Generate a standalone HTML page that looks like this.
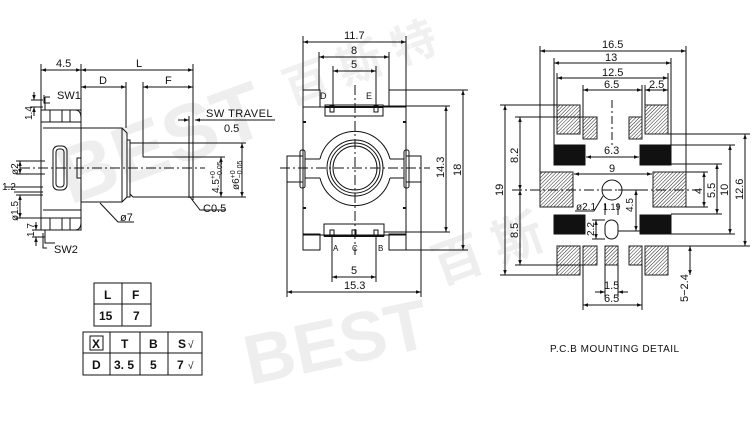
<!DOCTYPE html>
<html><head><meta charset="utf-8"><style>
html,body{margin:0;padding:0;background:#fff}
svg{display:block}
text{font-family:"Liberation Sans","Noto Sans CJK SC",sans-serif;fill:#111}
</style></head><body>
<svg width="755" height="424" viewBox="0 0 755 424" xmlns="http://www.w3.org/2000/svg">
<defs>
<marker id="a" viewBox="0 0 10 10" refX="10" refY="5" markerWidth="6" markerHeight="5" orient="auto-start-reverse"><path d="M0,1.5L10,5L0,8.5z" fill="#111"/></marker>
<pattern id="h" width="2.5" height="2.5" patternUnits="userSpaceOnUse" patternTransform="rotate(45)"><rect width="2.5" height="2.5" fill="#fff"/><line x1="0" y1="0" x2="0" y2="2.5" stroke="#222" stroke-width="1"/></pattern>
</defs>
<!-- watermarks -->
<g font-weight="bold" font-family="Liberation Serif,serif">
<text x="70" y="205" font-size="80" transform="rotate(-20 70 205)" style="fill:#eeeeee">BEST</text>
<text x="250" y="385" font-size="70" transform="rotate(-12 250 385)" style="fill:#eeeeee">BEST</text>
<text x="440" y="285" font-size="50" transform="rotate(-20 440 285)" style="fill:#eeeeee">百 斯</text>
<text x="290" y="105" font-size="45" transform="rotate(-20 290 105)" style="fill:#f0f0f0">百 斯 特</text>
</g>
<g stroke="#111" stroke-width="1" fill="none">
<!-- LEFT VIEW -->
<line x1="41" y1="64" x2="41" y2="112"/><line x1="81" y1="64" x2="81" y2="120"/><line x1="193" y1="64" x2="193" y2="200"/>
<line x1="126" y1="82" x2="126" y2="128"/><line x1="143" y1="82" x2="143" y2="157"/>
<line x1="41" y1="70" x2="81" y2="70" marker-start="url(#a)" marker-end="url(#a)"/>
<line x1="81" y1="70" x2="193" y2="70" marker-start="url(#a)" marker-end="url(#a)"/>
<line x1="81" y1="87" x2="126" y2="87" marker-start="url(#a)" marker-end="url(#a)"/>
<line x1="143" y1="87" x2="193" y2="87" marker-start="url(#a)" marker-end="url(#a)"/>
<line x1="178" y1="120" x2="189" y2="120" marker-end="url(#a)"/>
<line x1="205" y1="120" x2="195" y2="120" marker-end="url(#a)"/>
<line x1="195" y1="120" x2="275" y2="120"/>
<line x1="189" y1="116" x2="189" y2="198"/>
<path d="M45,97 H50 M45,97 V110 M41,110 H75 Q81,110 81,118 V222 Q81,230 75,230 H41 Z"/>
<rect x="41" y="110" width="40" height="12"/><rect x="41" y="218" width="40" height="12"/>
<line x1="50" y1="110" x2="50" y2="122"/><line x1="62" y1="110" x2="62" y2="122"/><line x1="70" y1="110" x2="70" y2="122"/>
<line x1="50" y1="218" x2="50" y2="230"/><line x1="62" y1="218" x2="62" y2="230"/><line x1="70" y1="218" x2="70" y2="230"/>
<line x1="43" y1="128" x2="81" y2="128"/><line x1="43" y1="210" x2="81" y2="210"/>
<rect x="53" y="146" width="14" height="44" rx="5"/><rect x="56" y="149" width="8" height="38" rx="3"/>
<rect x="77" y="158" width="4" height="20"/>
<path d="M45,230 V243 H55 M43,233 V248 H47"/>
<path d="M44,95 V103 H50"/>
<path d="M81,128 H122 L127,133 V197 L122,202 H81"/>
<line x1="122" y1="128" x2="122" y2="202"/>
<path d="M127,140 H130 V197 H127"/>
<path d="M130,143 H193 V197 H133 L130,194 Z"/>
<line x1="143" y1="157" x2="193" y2="157"/>
<line x1="20" y1="168" x2="205" y2="168" stroke-dasharray="10,3,2,3"/>
<line x1="193" y1="143" x2="246" y2="143"/><line x1="193" y1="197" x2="246" y2="197"/><line x1="193" y1="157" x2="225" y2="157"/>
<line x1="221" y1="157" x2="221" y2="197" marker-start="url(#a)" marker-end="url(#a)"/>
<line x1="242" y1="143" x2="242" y2="197" marker-start="url(#a)" marker-end="url(#a)"/>
<path d="M100,203 L118,222 H134"/>
<path d="M190,197 L200,210 H226"/>
<line x1="31" y1="100" x2="43" y2="100"/><line x1="31" y1="107" x2="43" y2="107"/>
<line x1="34" y1="92" x2="34" y2="100" marker-end="url(#a)"/><line x1="34" y1="116" x2="34" y2="107" marker-end="url(#a)"/>
<line x1="16" y1="161" x2="45" y2="161"/><line x1="16" y1="174" x2="45" y2="174"/>
<line x1="20" y1="161" x2="20" y2="174" marker-start="url(#a)" marker-end="url(#a)"/>
<line x1="5" y1="187" x2="43" y2="187"/><line x1="14" y1="192" x2="43" y2="192"/>
<line x1="16" y1="195" x2="43" y2="195"/><line x1="16" y1="218" x2="43" y2="218"/>
<line x1="20" y1="195" x2="20" y2="218" marker-start="url(#a)" marker-end="url(#a)"/>
<line x1="32" y1="230" x2="45" y2="230"/><line x1="32" y1="237" x2="45" y2="237"/>
<line x1="36" y1="222" x2="36" y2="230" marker-end="url(#a)"/><line x1="36" y1="246" x2="36" y2="237" marker-end="url(#a)"/>

<!-- MIDDLE VIEW -->
<line x1="303" y1="36" x2="303" y2="90"/><line x1="406" y1="36" x2="406" y2="90"/>
<line x1="319" y1="52" x2="319" y2="90"/><line x1="389" y1="52" x2="389" y2="90"/>
<line x1="333" y1="66" x2="333" y2="107"/><line x1="376" y1="66" x2="376" y2="107"/>
<line x1="303" y1="42" x2="406" y2="42" marker-start="url(#a)" marker-end="url(#a)"/>
<line x1="319" y1="57" x2="389" y2="57" marker-start="url(#a)" marker-end="url(#a)"/>
<line x1="333" y1="71" x2="376" y2="71" marker-start="url(#a)" marker-end="url(#a)"/>
<rect x="303" y="90" width="17" height="17"/><rect x="389" y="90" width="17" height="17"/>
<rect x="303" y="107" width="103" height="128"/>
<rect x="325" y="105" width="58" height="11"/><line x1="325" y1="107" x2="383" y2="107" stroke-width="2"/>
<rect x="330" y="106" width="4" height="6"/><rect x="374" y="106" width="4" height="6"/>
<rect x="303" y="234" width="17" height="16"/><rect x="389" y="234" width="17" height="16"/>
<rect x="324" y="224" width="60" height="12"/><line x1="324" y1="236" x2="384" y2="236" stroke-width="2"/>
<rect x="330" y="230" width="4" height="6"/><rect x="352" y="230" width="4" height="6"/><rect x="374" y="230" width="4" height="6"/>
<rect x="287" y="156" width="16" height="26"/><rect x="406" y="156" width="15" height="26"/>
<rect x="300" y="150" width="5" height="38" rx="2"/><rect x="404" y="150" width="5" height="38" rx="2"/>
<line x1="305" y1="159" x2="320" y2="159"/><line x1="305" y1="178" x2="320" y2="178"/>
<line x1="390" y1="159" x2="404" y2="159"/><line x1="390" y1="178" x2="404" y2="178"/>
<path d="M320,159 A36,36 0 0 1 390,159 M320,178 A36,36 0 0 0 390,178"/>
<circle cx="355" cy="168" r="28"/><circle cx="355" cy="168" r="25"/><circle cx="355" cy="168" r="22"/>
<path d="M303,122 h3 M303,208 h3 M406,122 h-3 M406,208 h-3" stroke-width="2"/>
<line x1="355" y1="85" x2="355" y2="255" stroke-dasharray="10,3,2,3"/>
<line x1="280" y1="168" x2="430" y2="168" stroke-dasharray="10,3,2,3"/>
<line x1="406" y1="90" x2="468" y2="90"/><line x1="406" y1="250" x2="468" y2="250"/>
<line x1="383" y1="106" x2="450" y2="106"/><line x1="384" y1="232" x2="450" y2="232"/>
<line x1="446" y1="106" x2="446" y2="232" marker-start="url(#a)" marker-end="url(#a)"/>
<line x1="463" y1="90" x2="463" y2="250" marker-start="url(#a)" marker-end="url(#a)"/>
<line x1="332" y1="236" x2="332" y2="282"/><line x1="376" y1="236" x2="376" y2="282"/>
<line x1="287" y1="182" x2="287" y2="297"/><line x1="421" y1="182" x2="421" y2="297"/>
<line x1="332" y1="277" x2="376" y2="277" marker-start="url(#a)" marker-end="url(#a)"/>
<line x1="287" y1="292" x2="421" y2="292" marker-start="url(#a)" marker-end="url(#a)"/>

<!-- RIGHT VIEW -->
<line x1="540" y1="46" x2="540" y2="172"/><line x1="686" y1="46" x2="686" y2="172"/>
<line x1="554" y1="58" x2="554" y2="145"/><line x1="671" y1="58" x2="671" y2="145"/>
<line x1="557" y1="73" x2="557" y2="105"/><line x1="668" y1="73" x2="668" y2="105"/>
<line x1="583" y1="85" x2="583" y2="117"/><line x1="642" y1="85" x2="642" y2="117"/><line x1="645" y1="85" x2="645" y2="105"/>
<line x1="540" y1="51" x2="686" y2="51" marker-start="url(#a)" marker-end="url(#a)"/>
<line x1="554" y1="63" x2="671" y2="63" marker-start="url(#a)" marker-end="url(#a)"/>
<line x1="557" y1="78" x2="668" y2="78" marker-start="url(#a)" marker-end="url(#a)"/>
<line x1="583" y1="90" x2="642" y2="90" marker-start="url(#a)" marker-end="url(#a)"/>
<line x1="645" y1="90" x2="668" y2="90" marker-start="url(#a)" marker-end="url(#a)"/>
<g fill="url(#h)" stroke="#222">
<rect x="557" y="105" width="23" height="29"/><rect x="583" y="117" width="14" height="22"/>
<rect x="629" y="117" width="13" height="22"/><rect x="645" y="105" width="23" height="29"/>
<rect x="540" y="172" width="33" height="35"/><rect x="653" y="172" width="33" height="35"/>
<rect x="557" y="246" width="23" height="29"/><rect x="583" y="246" width="14" height="19"/>
<rect x="605" y="246" width="13" height="19"/><rect x="629" y="246" width="13" height="19"/>
<rect x="645" y="246" width="23" height="29"/>
</g>
<g fill="#111">
<rect x="554" y="145" width="31" height="20"/><rect x="640" y="145" width="31" height="20"/>
<rect x="554" y="215" width="31" height="19"/><rect x="640" y="215" width="31" height="19"/>
</g>
<line x1="586" y1="157" x2="639" y2="157" marker-start="url(#a)" marker-end="url(#a)"/>
<line x1="574" y1="174" x2="652" y2="174" marker-start="url(#a)" marker-end="url(#a)"/>
<circle cx="612" cy="190" r="10"/>
<rect x="605" y="220" width="13" height="19" rx="6.5"/>
<line x1="612" y1="100" x2="612" y2="145" stroke-dasharray="8,3,2,3"/>
<line x1="512" y1="190" x2="700" y2="190" stroke-dasharray="10,3,2,3"/>
<line x1="500" y1="105" x2="557" y2="105"/><line x1="500" y1="275" x2="557" y2="275"/>
<line x1="515" y1="117" x2="583" y2="117"/><line x1="515" y1="265" x2="583" y2="265"/>
<line x1="505" y1="105" x2="505" y2="275" marker-start="url(#a)" marker-end="url(#a)"/>
<line x1="520" y1="117" x2="520" y2="190" marker-start="url(#a)" marker-end="url(#a)"/>
<line x1="520" y1="190" x2="520" y2="265" marker-start="url(#a)" marker-end="url(#a)"/>
<line x1="686" y1="172" x2="708" y2="172"/><line x1="686" y1="207" x2="708" y2="207"/>
<line x1="671" y1="164" x2="722" y2="164"/><line x1="671" y1="214" x2="722" y2="214"/>
<line x1="671" y1="145" x2="735" y2="145"/><line x1="671" y1="234" x2="735" y2="234"/>
<line x1="668" y1="134" x2="750" y2="134"/><line x1="668" y1="246" x2="750" y2="246"/>
<line x1="704" y1="172" x2="704" y2="207" marker-start="url(#a)" marker-end="url(#a)"/>
<line x1="717" y1="164" x2="717" y2="214" marker-start="url(#a)" marker-end="url(#a)"/>
<line x1="730" y1="145" x2="730" y2="234" marker-start="url(#a)" marker-end="url(#a)"/>
<line x1="745" y1="134" x2="745" y2="246" marker-start="url(#a)" marker-end="url(#a)"/>
<line x1="618" y1="190" x2="640" y2="190"/>
<line x1="636" y1="190" x2="636" y2="231" marker-start="url(#a)" marker-end="url(#a)"/>
<line x1="618" y1="231" x2="640" y2="231"/>
<line x1="605" y1="220" x2="592" y2="220"/><line x1="605" y1="239" x2="592" y2="239"/>
<line x1="596" y1="220" x2="596" y2="239" marker-start="url(#a)" marker-end="url(#a)"/>
<path d="M603,196 L594,211 H575"/>
<line x1="605" y1="203" x2="605" y2="215"/><line x1="618" y1="203" x2="618" y2="215"/>
<line x1="605" y1="265" x2="605" y2="297"/><line x1="618" y1="265" x2="618" y2="297"/>
<line x1="583" y1="265" x2="583" y2="310"/><line x1="642" y1="265" x2="642" y2="310"/>
<line x1="595" y1="292" x2="605" y2="292" marker-end="url(#a)"/><line x1="628" y1="292" x2="618" y2="292" marker-end="url(#a)"/>
<line x1="583" y1="305" x2="642" y2="305" marker-start="url(#a)" marker-end="url(#a)"/>
<line x1="690" y1="246" x2="690" y2="275" marker-start="url(#a)" marker-end="url(#a)"/>

<!-- TABLES -->
<rect x="94" y="283" width="57" height="43"/><line x1="94" y1="304" x2="151" y2="304"/><line x1="122" y1="283" x2="122" y2="326"/>
<rect x="83" y="332" width="119" height="43"/><line x1="83" y1="353" x2="202" y2="353"/>
<line x1="110" y1="332" x2="110" y2="375"/><line x1="140" y1="332" x2="140" y2="375"/><line x1="168" y1="332" x2="168" y2="375"/>
<rect x="90" y="336" width="13" height="14"/>
</g>

<g font-size="11">
<text x="56" y="67">4.5</text><text x="136" y="67">L</text>
<text x="99" y="84">D</text><text x="165" y="84">F</text>
<text x="57" y="99">SW1</text><text x="54" y="253">SW2</text>
<text x="206" y="117" letter-spacing="0.5">SW TRAVEL</text><text x="224" y="132">0.5</text>
<text x="120" y="221">ø7</text><text x="203" y="212">C0.5</text>
<text x="219" y="193" font-size="10" transform="rotate(-90 219 193)">4.5<tspan font-size="7" dy="-4">+0</tspan><tspan font-size="7" dx="-8" dy="7">−0.05</tspan></text>
<text x="239" y="190" font-size="10" transform="rotate(-90 239 190)">ø6<tspan font-size="7" dy="-4">+0</tspan><tspan font-size="7" dx="-8" dy="7">−0.05</tspan></text>
<text x="32" y="120" font-size="10" transform="rotate(-90 32 120)">1.4</text>
<text x="18" y="175" font-size="10" transform="rotate(-90 18 175)">ø2</text>
<text x="2" y="190" font-size="10">1.2</text>
<text x="18" y="221" font-size="10" transform="rotate(-90 18 221)">ø1.5</text>
<text x="34" y="237" font-size="10" transform="rotate(-90 34 237)">1.7</text>

<text x="344" y="39">11.7</text><text x="351" y="54">8</text><text x="351" y="68">5</text>
<text x="320" y="99" font-size="9">D</text><text x="366" y="99" font-size="9">E</text>
<text x="333" y="251" font-size="8">A</text><text x="352" y="251" font-size="8">C</text><text x="378" y="251" font-size="8">B</text>
<text x="351" y="274">5</text><text x="344" y="289">15.3</text>
<text x="444" y="178" transform="rotate(-90 444 178)">14.3</text>
<text x="461" y="176" transform="rotate(-90 461 176)">18</text>

<text x="602" y="48">16.5</text><text x="605" y="61">13</text><text x="602" y="76">12.5</text>
<text x="604" y="88">6.5</text><text x="649" y="88">2.5</text>
<text x="604" y="154">6.3</text><text x="609" y="172">9</text>
<text x="576" y="210" font-size="10">ø2.1</text><text x="603" y="210" font-size="9">1.19</text>
<text x="633" y="212" font-size="10" transform="rotate(-90 633 212)">4.5</text>
<text x="594" y="236" font-size="10" transform="rotate(-90 594 236)">2.2</text>
<text x="503" y="196" transform="rotate(-90 503 196)">19</text>
<text x="518" y="163" transform="rotate(-90 518 163)">8.2</text>
<text x="518" y="238" transform="rotate(-90 518 238)">8.5</text>
<text x="702" y="194" transform="rotate(-90 702 194)">4</text>
<text x="715" y="198" transform="rotate(-90 715 198)">5.5</text>
<text x="728" y="196" transform="rotate(-90 728 196)">10</text>
<text x="743" y="200" transform="rotate(-90 743 200)">12.6</text>
<text x="604" y="289">1.5</text><text x="604" y="302">6.5</text>
<text x="688" y="302" transform="rotate(-90 688 302)">5−2.4</text>
<text x="550" y="352" font-size="10" letter-spacing="0.5">P.C.B MOUNTING DETAIL</text>

<g font-weight="bold" font-size="12">
<text x="104" y="299">L</text><text x="132" y="299">F</text>
<text x="99" y="320">15</text><text x="133" y="320">7</text>
<text x="92" y="348">X</text><text x="121" y="348">T</text><text x="149" y="348">B</text><text x="178" y="348">S</text>
<text x="92" y="369">D</text><text x="114" y="369">3. 5</text><text x="150" y="369">5</text><text x="177" y="369">7</text>
</g>
<text x="188" y="348" font-size="10">√</text><text x="188" y="369" font-size="10">√</text>
</g>
</svg>
</body></html>
